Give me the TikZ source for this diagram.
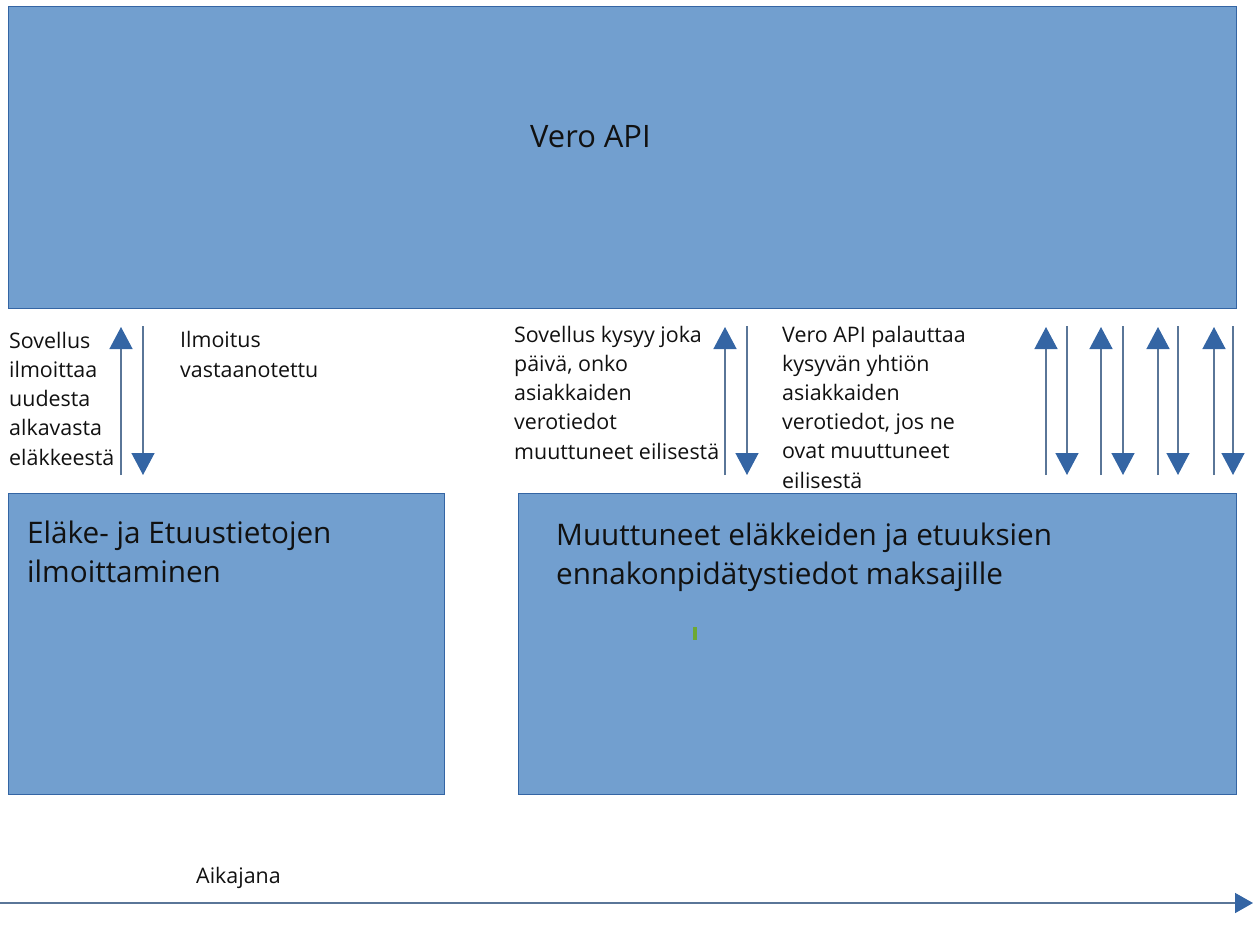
\documentclass[tikz,border=0pt]{standalone}
\usepackage{fontspec}
\setmainfont{Open Sans}
\usetikzlibrary{arrows.meta}
\definecolor{boxfill}{HTML}{729FCF}
\definecolor{boxline}{HTML}{3465A4}
\definecolor{headc}{HTML}{3465A4}
\definecolor{shaftc}{HTML}{5A7698}
\definecolor{txt}{HTML}{111111}
\definecolor{markg}{HTML}{6DA833}
\tikzset{
  box/.style={draw=boxline, line width=0.9bp, fill=boxfill, inner sep=0pt, outer sep=0pt},
  lbl/.style={anchor=base west, align=left, inner sep=0pt, text=txt, font=\fontsize{21.5}{29.2}\selectfont},
  big/.style={anchor=base west, align=left, inner sep=0pt, text=txt, font=\fontsize{29.8}{39}\selectfont},
  arr/.style={draw=shaftc, line width=1.4bp, -{Triangle[width=23bp,length=22bp,fill=headc,color=headc]}},
}
\begin{document}
\begin{tikzpicture}[x=1bp,y=-1bp]
\useasboundingbox (0,0) rectangle (1256,934);
% boxes
\node[box, minimum width=1228bp, minimum height=302bp, anchor=north west] (api) at (8,6) {};
\node[box, minimum width=436bp, minimum height=301bp, anchor=north west] (left) at (8,493) {};
\node[box, minimum width=718bp, minimum height=301bp, anchor=north west] (right) at (518,493) {};
% box texts (base anchor = last line baseline)
\node[big, font=\fontsize{31}{39}\selectfont] (apit) at (530,147) {Vero API};
\node[big] (leftt) at (27,582) {Eläke- ja Etuustietojen\\ilmoittaminen};
\node[big] (rightt) at (556,584) {Muuttuneet eläkkeiden ja etuuksien\\ennakonpidätystiedot maksajille};
% green mark
\fill[markg] (693,627) rectangle (697,640);
% labels
\node[lbl] (l1) at (9,465) {Sovellus\\ilmoittaa\\uudesta\\alkavasta\\eläkkeestä};
\node[lbl] (l2) at (180,377) {Ilmoitus\\vastaanotettu};
\node[lbl] (l3) at (514,459) {Sovellus kysyy joka\\päivä, onko\\asiakkaiden\\verotiedot\\muuttuneet eilisestä};
\node[lbl] (l4) at (782,488) {Vero API palauttaa\\kysyvän yhtiön\\asiakkaiden\\verotiedot, jos ne\\ovat muuttuneet\\eilisestä};
% arrows
\draw[arr, shorten <=18bp, shorten >=19bp] (left.north -| 121,0) -- (api.south -| 121,0);
\draw[arr, shorten <=18bp, shorten >=18bp] (api.south -| 143,0) -- (left.north -| 143,0);
\draw[arr, shorten <=18bp, shorten >=19bp] (right.north -| 725,0) -- (api.south -| 725,0);
\draw[arr, shorten <=18bp, shorten >=18bp] (api.south -| 747,0) -- (right.north -| 747,0);
\foreach \u/\d in {1046/1067,1101/1123,1158/1178,1214/1233}{
  \draw[arr, shorten <=18bp, shorten >=19bp] (right.north -| \u,0) -- (api.south -| \u,0);
  \draw[arr, shorten <=18bp, shorten >=18bp] (api.south -| \d,0) -- (right.north -| \d,0);
}
% timeline
\coordinate (ts) at (0,903);
\coordinate (te) at (1253,903);
\draw[draw=shaftc, line width=1.6bp, -{Triangle[width=20bp,length=18bp,fill=headc,color=headc]}] (ts) -- (te);
\node[lbl] (aika) at (196,883) {Aikajana};
\end{tikzpicture}
\end{document}
